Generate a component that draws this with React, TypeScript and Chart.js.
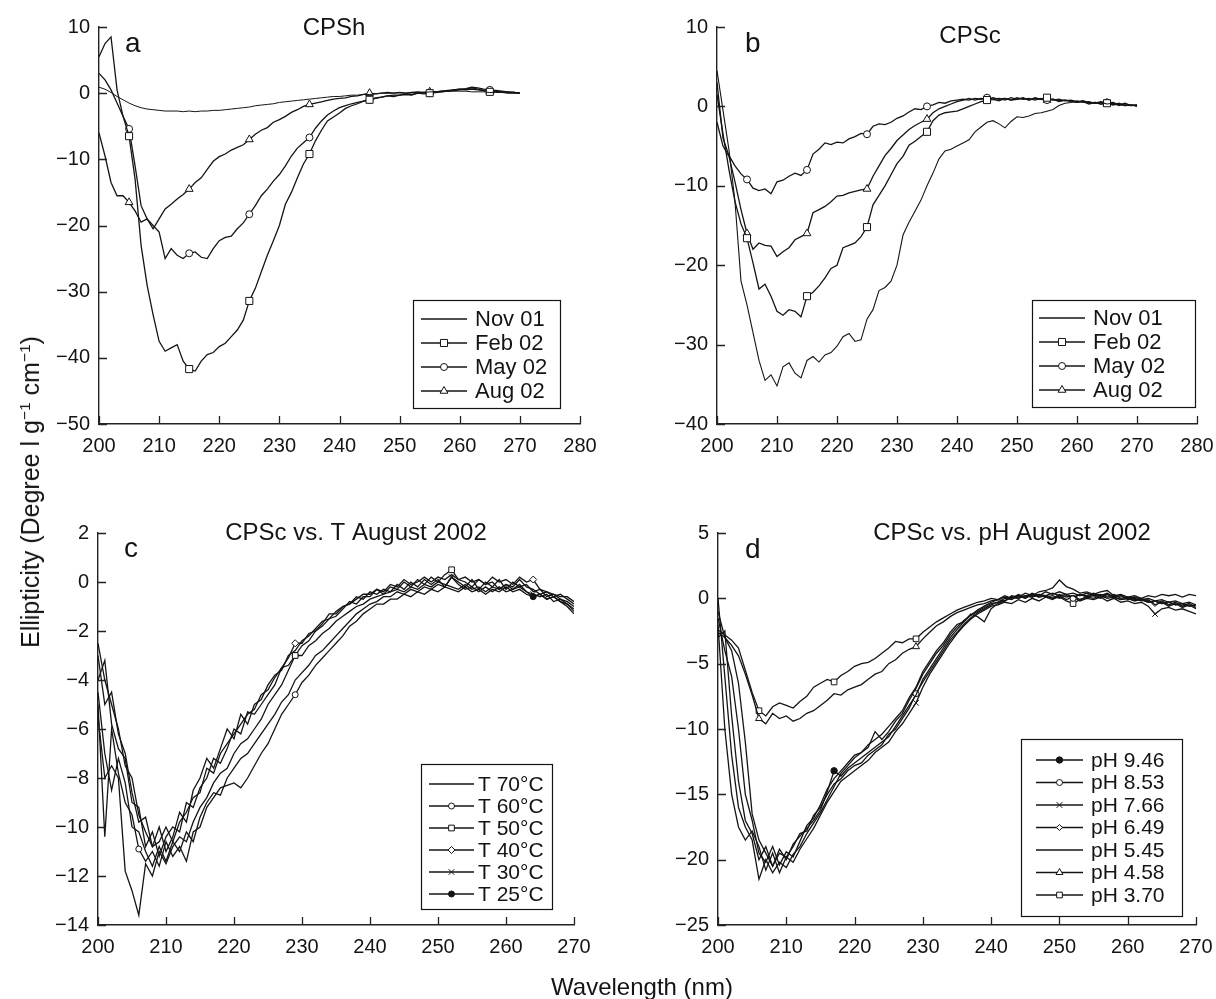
import React, { useEffect, useRef } from 'react';
import { Chart, registerables } from 'chart.js';

Chart.register(...registerables);

// ---------- data ----------
const WAVELENGTHS = [
  200, 201, 202, 203, 204, 205, 206, 207, 208, 209,
  210, 211, 212, 213, 214, 215, 216, 217, 218, 219,
  220, 221, 222, 223, 224, 225, 226, 227, 228, 229,
  230, 231, 232, 233, 234, 235, 236, 237, 238, 239,
  240, 241, 242, 243, 244, 245, 246, 247, 248, 249,
  250, 251, 252, 253, 254, 255, 256, 257, 258, 259,
  260, 261, 262, 263, 264, 265, 266, 267, 268, 269,
  270,
];

// Panel a: CPSh
const A_NOV01 = [
  0.9, 0.6, 0.1, -0.5, -1.0, -1.5, -1.9, -2.2, -2.4, -2.5,
  -2.6, -2.7, -2.7, -2.7, -2.8, -2.7, -2.8, -2.7, -2.7, -2.6,
  -2.6, -2.5, -2.4, -2.3, -2.2, -2.1, -1.9, -1.8, -1.7, -1.6,
  -1.4, -1.3, -1.2, -1.1, -1.0, -0.9, -0.8, -0.7, -0.6, -0.5,
  -0.5, -0.4, -0.3, -0.3, -0.2, -0.2, -0.1, 0.0, 0.0, 0.0,
  0.1, 0.0, 0.1, 0.1, 0.1, 0.2, 0.2, 0.2, 0.3, 0.3,
  0.3, 0.3, 0.2, 0.2, 0.2, 0.1, 0.1, 0.1, 0.0, 0.0,
  0.0,
];
const A_FEB02 = [
  5.5, 7.5, 8.5, 0.5, -3.5, -6.5, -13.0, -23.0, -29.0, -33.5,
  -37.5, -39.0, -38.5, -38.0, -40.5, -41.7, -42.0, -40.5, -39.5, -39.2,
  -38.3, -37.8, -36.8, -35.8, -34.3, -31.4, -29.5, -27.0, -24.5, -22.3,
  -20.0, -16.8, -15.0, -12.8, -10.7, -9.2, -7.2, -5.6, -4.2, -3.6,
  -3.0, -2.3, -1.9, -1.6, -1.2, -1.0, -0.7, -0.6, -0.4, -0.5,
  -0.3, -0.2, -0.3, 0.0, -0.1, 0.0, 0.1, 0.2, 0.3, 0.4,
  0.5, 0.6, 0.8, 0.6, 0.4, 0.2, 0.3, 0.2, 0.1, 0.1,
  0.0,
];
const A_MAY02 = [
  3.0, 2.0, 0.5, -1.5, -3.5, -5.4, -11.0, -17.0, -19.0, -20.0,
  -21.0, -25.0, -23.5, -24.5, -25.0, -24.2, -24.0, -24.8, -25.0, -23.5,
  -22.3, -21.8, -21.6, -20.5, -19.6, -18.3, -17.0, -15.5, -14.5, -13.3,
  -12.3, -11.0, -9.5, -8.3, -7.5, -6.7, -5.3, -4.2, -3.3, -2.7,
  -2.2, -1.9, -1.6, -1.4, -1.2, -1.0, -0.8, -0.6, -0.4, -0.3,
  -0.3, -0.1, -0.2, 0.0, 0.1, 0.0, 0.2, 0.3, 0.3, 0.5,
  0.6, 0.7, 0.9, 0.8, 0.6, 0.5, 0.4, 0.3, 0.2, 0.1,
  0.0,
];
const A_AUG02 = [
  -6.0, -9.5, -13.5, -15.5, -15.5, -16.5, -17.8, -19.5, -19.0, -20.5,
  -19.0, -17.5, -16.8, -16.0, -15.3, -14.5, -13.5, -12.8, -11.5, -10.3,
  -9.6, -9.2, -8.6, -8.2, -7.8, -7.0, -6.2, -5.6, -5.2, -4.4,
  -4.0, -3.5, -2.9, -2.5, -2.0, -1.7, -1.5, -1.3, -1.1, -0.9,
  -0.8, -0.7, -0.5, -0.4, -0.2, 0.0, -0.1, 0.0, 0.1, 0.0,
  0.1, 0.0, 0.1, 0.2, 0.1, 0.2, 0.2, 0.3, 0.4, 0.5,
  0.6, 0.5, 0.6, 0.5, 0.4, 0.3, 0.3, 0.2, 0.1, 0.1,
  0.0,
];

// Panel b: CPSc
const B_NOV01 = [
  4.5, -0.5, -5.5, -12.0, -22.0, -25.0, -28.5, -32.0, -34.5, -33.8,
  -35.2, -32.8, -32.3, -33.6, -34.2, -32.0, -31.5, -32.2, -31.3, -31.0,
  -30.2, -29.0, -28.6, -29.6, -29.4, -26.8, -25.6, -23.2, -22.8, -22.0,
  -20.0, -16.2, -14.6, -13.2, -11.8, -10.0, -8.4, -6.6, -5.6, -5.4,
  -5.0, -4.6, -4.2, -3.2, -2.6, -2.0, -1.8, -2.2, -2.7, -1.9,
  -1.3, -1.4, -1.2, -0.9, -0.8, -0.6, -0.4, 0.1, 0.4, 0.5,
  0.7, 0.5, 0.6, 0.4, 0.5, 0.3, 0.4, 0.1, 0.3, 0.1,
  0.2,
];
const B_FEB02 = [
  1.5, -3.5, -8.0, -12.0, -14.8, -16.6, -19.7, -23.0, -22.4, -23.9,
  -25.8, -26.3, -25.6, -25.8, -26.5, -23.9, -23.4, -22.6, -21.6, -20.4,
  -20.0, -17.8, -17.5, -17.2, -16.4, -15.2, -12.4, -11.2, -10.0, -8.6,
  -7.2, -6.3, -4.9, -4.4, -3.8, -3.2, -1.8, -1.1, -0.8, -0.7,
  -0.6, -0.3, 0.0, 0.3, 0.6, 0.8, 0.9, 0.7, 1.0, 0.8,
  0.9, 1.1, 0.8, 1.0, 0.9, 1.1, 0.8, 0.9, 0.7, 0.8,
  0.6, 0.7, 0.5, 0.4, 0.6, 0.4, 0.5, 0.2, 0.4, 0.1,
  0.2,
];
const B_MAY02 = [
  3.0, -4.0, -6.2, -7.5, -8.5, -9.2, -10.3, -10.6, -10.4, -11.0,
  -9.5, -9.3, -8.8, -8.4, -8.7, -8.0, -6.0, -5.4, -4.6, -4.8,
  -4.5, -4.6, -4.1, -3.8, -3.4, -3.5, -2.5, -2.2, -2.3, -2.0,
  -1.5, -1.2, -0.7, -0.3, -0.4, 0.0, 0.2, 0.5, 0.4, 0.7,
  0.8, 0.9, 0.8, 1.0, 0.9, 1.1, 0.9, 1.0, 0.8, 1.1,
  0.9, 1.0, 0.8, 1.1, 0.9, 0.8, 0.9, 0.6, 0.8, 0.7,
  0.5, 0.7, 0.4, 0.5, 0.3, 0.5, 0.2, 0.4, 0.1, 0.2,
  0.1,
];
const B_AUG02 = [
  -2.0, -5.0, -6.3, -9.5, -13.0, -16.0, -18.0, -17.2, -17.5, -17.6,
  -18.9, -18.3, -17.8, -16.8, -16.4, -16.0, -13.4, -13.0, -12.6, -12.0,
  -11.3, -11.2, -10.9, -10.7, -10.5, -10.4, -8.8, -7.5, -6.2, -5.3,
  -4.3, -3.6, -2.9, -2.4, -2.0, -1.6, -0.8, -0.3, 0.0, 0.3,
  0.6, 0.8, 1.0, 0.8, 1.0, 0.9, 1.1, 0.9, 1.0, 0.8,
  1.1, 0.9, 1.0, 0.8, 1.0, 0.8, 0.9, 0.7, 0.8, 0.6,
  0.5, 0.6, 0.3, 0.5, 0.3, 0.4, 0.2, 0.3, 0.1, 0.2,
  0.0,
];

// Panel c: CPSc vs. temperature
const C_T70 = [
  -2.5, -4.0, -5.0, -6.0, -7.5, -8.0, -9.5, -10.2, -10.8, -10.0,
  -11.0, -10.4, -9.4, -9.8, -8.5, -8.0, -7.2, -7.6, -6.8, -6.0,
  -6.4, -5.4, -5.8, -5.0, -4.8, -4.2, -3.8, -3.6, -3.0, -2.8,
  -2.4, -2.2, -1.9, -1.6, -1.5, -1.2, -1.0, -0.9, -0.6, -0.7,
  -0.4, -0.5, -0.3, -0.4, -0.1, -0.3, 0.0, -0.2, 0.1, -0.1,
  0.1, -0.2, 0.2, 0.0, -0.2, 0.1, -0.3, 0.0, -0.2, 0.1,
  -0.3, 0.0, -0.2, -0.1, -0.4, -0.3, -0.6, -0.5, -0.7, -0.8,
  -1.0,
];
const C_T60 = [
  -5.0, -10.4, -6.0, -7.8, -9.0, -9.5, -10.9, -11.4, -11.0, -11.6,
  -10.6, -11.2, -10.8, -11.4, -10.2, -10.0, -9.2, -8.8, -8.4, -8.3,
  -8.2, -8.4, -8.0, -7.5, -7.0, -6.6, -6.0, -5.4, -5.0, -4.6,
  -4.1, -3.8, -3.4, -3.1, -2.8, -2.5, -2.2, -1.8, -1.6, -1.3,
  -1.1, -0.9, -0.9, -0.7, -0.7, -0.5, -0.6, -0.4, -0.5, -0.3,
  -0.4, -0.2, -0.3, -0.4, -0.2, -0.4, -0.3, -0.5, -0.3, -0.4,
  -0.2, -0.4, -0.3, -0.5, -0.6, -0.5, -0.7, -0.6, -0.8, -0.9,
  -1.2,
];
const C_T50 = [
  -4.0, -3.2, -5.8, -6.8, -7.2, -9.0, -9.2, -10.8, -10.2, -11.2,
  -10.4, -10.0, -10.2, -9.0, -9.2, -8.4, -8.0, -7.2, -7.4, -6.8,
  -6.0, -6.2, -5.3, -5.4, -5.0, -4.6, -4.2, -3.5, -3.4, -3.0,
  -2.6, -2.4, -2.0, -1.8, -1.5, -1.4, -1.1, -0.8, -0.9, -0.6,
  -0.6, -0.3, -0.5, -0.2, -0.3, 0.0, -0.2, 0.1, -0.1, 0.2,
  0.0, 0.3, 0.5, 0.1, 0.0, -0.2, 0.1, -0.1, 0.0, -0.3,
  -0.1, -0.2, 0.1, -0.2, -0.3, -0.5, -0.4, -0.6, -0.5, -0.7,
  -0.9,
];
const C_T40 = [
  -3.0, -5.0, -4.5, -6.2, -7.0, -8.6, -9.8, -9.6, -10.8, -10.6,
  -10.0, -10.6, -9.8, -9.4, -8.8, -8.6, -7.6, -7.8, -7.0, -6.6,
  -6.2, -5.8, -5.4, -5.2, -4.6, -4.4, -3.9, -3.5, -3.1, -2.5,
  -2.5, -2.1, -2.0, -1.7, -1.3, -1.3, -1.0, -0.9, -0.7, -0.5,
  -0.5, -0.3, -0.4, -0.1, -0.2, 0.1, -0.1, 0.0, 0.2, 0.0,
  0.2, 0.1, 0.3, 0.1, 0.2, 0.0, 0.1, -0.1, 0.2, 0.0,
  0.1, -0.1, 0.2, 0.0, 0.1, -0.3, -0.4, -0.5, -0.6, -0.6,
  -0.8,
];
const C_T30 = [
  -4.5, -7.0, -8.5, -7.2, -8.2, -10.0, -10.2, -11.0, -11.6, -10.8,
  -11.4, -10.6, -11.0, -10.2, -10.6, -9.6, -9.0, -8.6, -8.7, -8.0,
  -7.6, -7.2, -7.0, -6.6, -6.2, -5.8, -5.4, -4.9, -4.6, -4.0,
  -3.7, -3.4, -3.0, -2.8, -2.5, -2.2, -1.9, -1.6, -1.3, -1.1,
  -0.9, -0.8, -0.6, -0.6, -0.4, -0.5, -0.3, -0.4, -0.2, -0.3,
  -0.1, -0.2, 0.2, -0.1, -0.3, -0.2, -0.4, -0.2, -0.4, -0.2,
  -0.4, -0.3, -0.1, -0.4, -0.5, -0.6, -0.5, -0.8, -0.7, -0.9,
  -1.1,
];
const C_T25 = [
  -5.5, -8.0, -7.5, -8.0, -11.8, -12.6, -13.6, -11.5, -12.0, -11.0,
  -11.5, -10.8, -10.4, -10.6, -9.8, -9.2, -8.8, -8.2, -7.8, -7.6,
  -7.0, -6.6, -6.4, -6.0, -5.6, -5.0, -4.6, -4.2, -3.6, -3.0,
  -3.0, -2.6, -2.4, -2.1, -1.9, -1.6, -1.4, -1.2, -1.0, -0.9,
  -0.7, -0.6, -0.5, -0.4, -0.3, -0.4, -0.2, -0.3, -0.1, -0.2,
  0.0, -0.1, -0.2, -0.3, -0.1, -0.3, -0.2, -0.4, -0.2, -0.3,
  -0.1, -0.3, -0.2, -0.4, -0.6, -0.5, -0.7, -0.6, -0.8, -1.0,
  -1.3,
];

// Panel d: CPSc vs. pH
const D_PH946 = [
  -1.0, -3.0, -4.0, -6.5, -11.0, -16.5, -18.5, -19.5, -20.5, -19.2,
  -20.0, -18.8, -18.2, -17.6, -17.0, -16.2, -14.8, -13.2, -13.6, -13.0,
  -12.6, -12.2, -11.8, -11.4, -11.0, -10.6, -9.8, -9.0, -8.2, -7.4,
  -6.2, -5.4, -4.6, -3.8, -3.0, -2.4, -1.8, -1.3, -1.0, -0.7,
  -0.4, -0.3, 0.0, -0.1, 0.2, 0.0, 0.3, 0.1, 0.2, 0.0,
  0.3, 0.1, 0.2, -0.1, 0.1, 0.2, 0.0, 0.3, 0.1, -0.1,
  0.0, -0.2, -0.1, -0.3, -0.2, -0.4, -0.3, -0.5, -0.4, -0.6,
  -0.5,
];
const D_PH853 = [
  -3.0, -2.5, -9.0, -14.0, -17.0, -18.0, -20.0, -19.0, -20.5, -19.5,
  -19.8, -19.0, -18.0, -17.8, -16.6, -16.0, -15.0, -14.2, -13.8, -13.2,
  -12.8, -12.6, -12.0, -11.6, -11.2, -10.4, -10.0, -9.2, -8.4, -7.3,
  -6.4, -5.6, -4.8, -4.0, -3.2, -2.6, -2.0, -1.5, -1.1, -0.8,
  -0.5, -0.3, -0.2, 0.1, 0.0, 0.2, 0.1, 0.3, 0.1, 0.2,
  0.0, 0.2, 0.0, 0.3, 0.1, 0.3, 0.2, 0.4, 0.1, 0.2,
  -0.1, 0.0, -0.2, -0.1, -0.5, -0.3, -0.6, -0.4, -0.7, -0.5,
  -0.8,
];
const D_PH766 = [
  -2.0, -10.0, -15.0, -17.5, -18.5, -17.8, -19.0, -20.8, -19.5, -21.0,
  -19.8, -20.2, -19.2, -18.4, -17.6, -16.6, -15.6, -14.8, -14.0, -13.6,
  -13.2, -12.8, -12.4, -11.8, -11.4, -11.0, -10.2, -9.6, -8.8, -8.0,
  -6.8, -5.8, -5.0, -4.2, -3.4, -2.7, -2.1, -1.6, -1.2, -0.9,
  -0.6, -0.5, -0.3, -0.4, -0.1, -0.3, 0.0, -0.2, 0.1, -0.1,
  0.2, -0.1, 0.1, -0.2, 0.0, -0.1, 0.1, -0.2, 0.0, -0.3,
  -0.2, -0.4, -0.3, -0.6, -1.2, -0.8, -0.7, -0.9, -0.8, -1.0,
  -1.2,
];
const D_PH649 = [
  0.0, -6.0, -12.0, -16.0, -17.5, -18.5, -21.5, -20.0, -21.0, -20.2,
  -20.6, -19.6, -19.0, -18.0, -17.2, -16.4, -15.4, -14.4, -13.4, -12.8,
  -12.2, -11.8, -11.4, -10.2, -10.8, -10.2, -9.4, -8.8, -7.8, -6.9,
  -5.8, -5.0, -4.2, -3.6, -2.8, -2.2, -1.7, -1.3, -0.9, -0.6,
  -0.3, -0.1, 0.2, 0.0, 0.3, 0.1, 0.4, 0.2, 0.5, 0.3,
  0.5, 0.3, 0.4, 0.2, 0.4, 0.2, 0.3, 0.1, 0.3, 0.0,
  0.1, -0.1, 0.0, -0.2, -0.4, -0.2, -0.5, -0.3, -0.6, -0.4,
  -0.7,
];
const D_PH545 = [
  -1.5, -4.0, -6.0, -10.0, -15.0, -17.0, -19.5, -20.2, -19.0, -20.4,
  -19.4, -19.8, -18.6, -17.4, -16.8, -15.8, -14.6, -13.8, -13.2, -12.6,
  -12.0, -11.8, -11.2, -10.8, -10.4, -9.8, -9.2, -8.6, -7.6, -6.8,
  -5.6, -4.8, -4.0, -3.4, -2.6, -2.0, -1.8, -1.2, -1.4, -1.8,
  -0.8, -0.4, -0.2, 0.2, 0.1, 0.4, 0.2, 0.5, 0.6, 0.8,
  1.4, 0.9, 0.7, 0.4, 0.5, 0.3, 0.5, 0.6, 0.2, 0.3,
  0.1, 0.2, 0.0, 0.2, 0.1, 0.3, 0.2, 0.3, 0.1, 0.3,
  0.2,
];
const D_PH458 = [
  -2.6, -3.0, -3.6, -4.4, -5.8, -7.4, -9.2, -9.6, -8.8, -9.2,
  -9.0, -9.4, -9.2, -8.8, -8.6, -8.2, -7.8, -7.3, -7.4, -7.0,
  -6.8, -6.6, -6.2, -5.8, -5.6, -5.0, -4.7, -4.2, -3.9, -3.7,
  -3.1, -2.6, -2.1, -1.8, -1.4, -1.1, -0.9, -0.7, -0.5, -0.4,
  -0.2, -0.1, -0.2, 0.1, 0.0, 0.2, 0.1, 0.3, 0.2, 0.4,
  0.2, 0.3, 0.1, 0.3, 0.2, 0.4, 0.2, 0.3, 0.1, 0.2,
  0.0, 0.1, -0.1, 0.0, -0.2, -0.1, -0.3, -0.2, -0.4, -0.3,
  -0.5,
];
const D_PH370 = [
  -2.4, -2.8, -3.2, -3.8, -5.5, -7.2, -8.6, -9.0, -8.3, -8.0,
  -8.2, -8.4, -7.9, -7.5, -6.8, -6.5, -6.2, -6.4, -5.9, -5.6,
  -5.2, -5.0, -4.9, -4.6, -4.2, -3.8, -3.3, -3.4, -3.1, -3.1,
  -2.6, -2.2, -1.8, -1.5, -1.2, -0.9, -0.7, -0.5, -0.3, -0.2,
  0.0, -0.1, 0.1, 0.0, 0.2, 0.0, 0.3, 0.1, 0.2, 0.0,
  0.1, -0.2, -0.4, -0.1, 0.1, 0.0, 0.2, 0.0, 0.1, -0.1,
  0.0, -0.2, -0.1, -0.3, -0.2, -0.4, -0.3, -0.5, -0.4, -0.6,
  -0.5,
];

// tick ranges
const AB_X_TICKS = { min: 200, max: 280, step: 10 };
const CD_X_TICKS = { min: 200, max: 270, step: 10 };
const A_Y_TICKS = { min: -50, max: 10, step: 10 };
const B_Y_TICKS = { min: -40, max: 10, step: 10 };
const C_Y_TICKS = { min: -14, max: 2, step: 2 };
const D_Y_TICKS = { min: -25, max: 5, step: 5 };

const MONTH_LABELS = ['Nov 01', 'Feb 02', 'May 02', 'Aug 02'];
const TEMP_LABELS = ['T 70°C', 'T 60°C', 'T 50°C', 'T 40°C', 'T 30°C', 'T 25°C'];
const PH_LABELS = ['pH 9.46', 'pH 8.53', 'pH 7.66', 'pH 6.49', 'pH 5.45', 'pH 4.58', 'pH 3.70'];
const AB_MARKS = [205, 215, 225, 235, 245, 255, 265];

// ---------- styling ----------
const FONT = '"Liberation Sans", Arial, Helvetica, sans-serif';
const INK = '#141414';
const AXIS = '#222222';

type Series = {
  label: string;
  values: number[];
  style?: string;
  r?: number;
  filled?: boolean;
  marks?: number[];
  width?: number;
};

type PanelCfg = {
  canvas: { x: number; y: number; w: number; h: number };
  area: { l: number; r: number; t: number; b: number };
  xr: { min: number; max: number; step: number };
  yr: { min: number; max: number; step: number };
  series: Series[];
  title: string; titleX: number; titleY: number;
  letter: string; letterX: number; letterY: number;
  legend: { x: number; y: number; w: number; h: number; row0: number; rowH: number; l0: number; l1: number; tx: number; font: number };
};

const PANELS: PanelCfg[] = [
  {
    canvas: { x: 0, y: 0, w: 608, h: 470 },
    area: { l: 99, r: 580, t: 27, b: 424 },
    xr: AB_X_TICKS, yr: A_Y_TICKS,
    series: [
      { label: MONTH_LABELS[0], values: A_NOV01, width: 1 },
      { label: MONTH_LABELS[1], values: A_FEB02, style: 'rect', r: 5, marks: AB_MARKS },
      { label: MONTH_LABELS[2], values: A_MAY02, style: 'circle', r: 3.5, marks: AB_MARKS },
      { label: MONTH_LABELS[3], values: A_AUG02, style: 'triangle', r: 4.5, marks: AB_MARKS },
    ],
    title: 'CPSh', titleX: 334, titleY: 35,
    letter: 'a', letterX: 125, letterY: 52,
    legend: { x: 413, y: 300, w: 147, h: 108, row0: 319, rowH: 24, l0: 421, l1: 467, tx: 475, font: 22 },
  },
  {
    canvas: { x: 608, y: 0, w: 608, h: 470 },
    area: { l: 717, r: 1197, t: 27, b: 424 },
    xr: AB_X_TICKS, yr: B_Y_TICKS,
    series: [
      { label: MONTH_LABELS[0], values: B_NOV01, width: 1.1 },
      { label: MONTH_LABELS[1], values: B_FEB02, style: 'rect', r: 5, marks: AB_MARKS },
      { label: MONTH_LABELS[2], values: B_MAY02, style: 'circle', r: 3.5, marks: AB_MARKS },
      { label: MONTH_LABELS[3], values: B_AUG02, style: 'triangle', r: 4.5, marks: AB_MARKS },
    ],
    title: 'CPSc', titleX: 970, titleY: 43,
    letter: 'b', letterX: 745, letterY: 52,
    legend: { x: 1032, y: 300, w: 163, h: 107, row0: 318, rowH: 24, l0: 1039, l1: 1085, tx: 1093, font: 22 },
  },
  {
    canvas: { x: 0, y: 470, w: 608, h: 529 },
    area: { l: 98, r: 574, t: 533, b: 925 },
    xr: CD_X_TICKS, yr: C_Y_TICKS,
    series: [
      { label: TEMP_LABELS[0], values: C_T70 },
      { label: TEMP_LABELS[1], values: C_T60, style: 'circle', r: 3, marks: [206, 229] },
      { label: TEMP_LABELS[2], values: C_T50, style: 'rect', r: 4, marks: [229, 252] },
      { label: TEMP_LABELS[3], values: C_T40, style: 'rectRot', r: 3.5, marks: [229, 264] },
      { label: TEMP_LABELS[4], values: C_T30, style: 'crossRot', r: 4, marks: [252, 264] },
      { label: TEMP_LABELS[5], values: C_T25, style: 'circle', r: 3, filled: true, marks: [229, 264] },
    ],
    title: 'CPSc vs. T August 2002', titleX: 356, titleY: 540,
    letter: 'c', letterX: 124, letterY: 557,
    legend: { x: 421, y: 764, w: 131, h: 145, row0: 784, rowH: 22, l0: 429, l1: 474, tx: 478, font: 21 },
  },
  {
    canvas: { x: 608, y: 470, w: 608, h: 529 },
    area: { l: 718, r: 1196, t: 533, b: 925 },
    xr: CD_X_TICKS, yr: D_Y_TICKS,
    series: [
      { label: PH_LABELS[0], values: D_PH946, style: 'circle', r: 3.2, filled: true, marks: [217] },
      { label: PH_LABELS[1], values: D_PH853, style: 'circle', r: 3, marks: [229, 252] },
      { label: PH_LABELS[2], values: D_PH766, style: 'crossRot', r: 4, marks: [229, 264] },
      { label: PH_LABELS[3], values: D_PH649, style: 'rectRot', r: 3, marks: [264] },
      { label: PH_LABELS[4], values: D_PH545 },
      { label: PH_LABELS[5], values: D_PH458, style: 'triangle', r: 4, marks: [206, 229] },
      { label: PH_LABELS[6], values: D_PH370, style: 'rect', r: 4, marks: [206, 217, 229, 252] },
    ],
    title: 'CPSc vs. pH August 2002', titleX: 1012, titleY: 540,
    letter: 'd', letterX: 745, letterY: 558,
    legend: { x: 1021, y: 739, w: 161, h: 177, row0: 760, rowH: 22.5, l0: 1036, l1: 1083, tx: 1091, font: 21 },
  },
];

// ---------- drawing helpers ----------
function drawMarker(ctx: CanvasRenderingContext2D, style: string, x: number, y: number, r: number, filled: boolean) {
  ctx.save();
  ctx.lineWidth = 1;
  ctx.strokeStyle = INK;
  ctx.fillStyle = filled ? INK : '#ffffff';
  ctx.beginPath();
  if (style === 'circle') {
    ctx.arc(x, y, r, 0, Math.PI * 2);
  } else if (style === 'rect') {
    const s = r * Math.SQRT1_2;
    ctx.rect(x - s, y - s, 2 * s, 2 * s);
  } else if (style === 'triangle') {
    ctx.moveTo(x, y - r);
    ctx.lineTo(x + r * 0.866, y + r / 2);
    ctx.lineTo(x - r * 0.866, y + r / 2);
    ctx.closePath();
  } else if (style === 'rectRot') {
    ctx.moveTo(x - r, y);
    ctx.lineTo(x, y - r);
    ctx.lineTo(x + r, y);
    ctx.lineTo(x, y + r);
    ctx.closePath();
  } else if (style === 'crossRot') {
    const s = r * Math.SQRT1_2;
    ctx.moveTo(x - s, y - s); ctx.lineTo(x + s, y + s);
    ctx.moveTo(x + s, y - s); ctx.lineTo(x - s, y + s);
    ctx.stroke();
    ctx.restore();
    return;
  }
  ctx.fill();
  ctx.stroke();
  ctx.restore();
}

const decoPlugin = {
  id: 'deco',
  afterDraw(chart: any, _args: any, o: any) {
    const ctx: CanvasRenderingContext2D = chart.ctx;
    const xs = chart.scales.x;
    const ys = chart.scales.y;
    const { left, bottom } = chart.chartArea;
    ctx.save();
    // inward tick marks
    ctx.strokeStyle = AXIS;
    ctx.lineWidth = 1.3;
    ctx.beginPath();
    for (const t of xs.ticks) {
      const p = Math.round(xs.getPixelForValue(t.value)) + 0.5;
      ctx.moveTo(p, bottom);
      ctx.lineTo(p, bottom - 8);
    }
    for (const t of ys.ticks) {
      const p = Math.round(ys.getPixelForValue(t.value)) + 0.5;
      ctx.moveTo(left, p);
      ctx.lineTo(left + 8, p);
    }
    ctx.stroke();

    // title + panel letter
    ctx.fillStyle = INK;
    ctx.textBaseline = 'alphabetic';
    ctx.textAlign = 'center';
    ctx.font = `24px ${FONT}`;
    ctx.fillText(o.title, o.titleX, o.titleY);
    ctx.textAlign = 'left';
    ctx.font = `28px ${FONT}`;
    ctx.fillText(o.letter, o.letterX, o.letterY);

    // legend
    const L = o.legend;
    ctx.fillStyle = '#ffffff';
    ctx.fillRect(L.x, L.y, L.w, L.h);
    ctx.strokeStyle = INK;
    ctx.lineWidth = 1.2;
    ctx.strokeRect(L.x + 0.5, L.y + 0.5, L.w, L.h);
    o.items.forEach((it: any, i: number) => {
      const y = L.row0 + i * L.rowH;
      ctx.strokeStyle = INK;
      ctx.lineWidth = 1.3;
      ctx.beginPath();
      ctx.moveTo(L.l0, y);
      ctx.lineTo(L.l1, y);
      ctx.stroke();
      if (it.style) drawMarker(ctx, it.style, (L.l0 + L.l1) / 2, y, it.r, !!it.filled);
      ctx.fillStyle = INK;
      ctx.font = `${L.font}px ${FONT}`;
      ctx.textAlign = 'left';
      ctx.textBaseline = 'middle';
      ctx.fillText(chart.data.datasets[i].label, L.tx, y + 1);
    });
    ctx.restore();
  },
};

const fmtTick = (v: any) => {
  const n = Number(v);
  return n < 0 ? '\u2212' + Math.abs(n) : String(n);
};

function buildConfig(p: PanelCfg): any {
  const ox = p.canvas.x;
  const oy = p.canvas.y;
  const YW = 60;
  const XH = 40;
  const shift = (L: PanelCfg['legend']) => ({
    ...L, x: L.x - ox, y: L.y - oy, row0: L.row0 - oy, l0: L.l0 - ox, l1: L.l1 - ox, tx: L.tx - ox,
  });
  const datasets = p.series.map((s) => ({
    label: s.label,
    data: WAVELENGTHS.map((w, i) => ({ x: w, y: s.values[i] })),
    borderColor: INK,
    borderWidth: s.width ?? 1.3,
    pointStyle: s.style || 'circle',
    pointRadius: (c: any) => (s.style && s.marks && s.marks.includes(WAVELENGTHS[c.dataIndex]) ? s.r : 0),
    pointHoverRadius: 0,
    pointBackgroundColor: s.filled ? INK : '#ffffff',
    pointBorderColor: INK,
    pointBorderWidth: 1,
    fill: false,
    tension: 0,
  }));
  const tickFont = { family: FONT, size: 20 };
  return {
    type: 'line',
    data: { datasets },
    plugins: [decoPlugin],
    options: {
      animation: false,
      responsive: false,
      maintainAspectRatio: false,
      devicePixelRatio: 1,
      events: [],
      layout: {
        padding: {
          left: p.area.l - ox - YW,
          right: ox + p.canvas.w - p.area.r,
          top: p.area.t - oy,
          bottom: oy + p.canvas.h - p.area.b - XH,
        },
      },
      plugins: {
        legend: { display: false },
        tooltip: { enabled: false },
        title: { display: false },
        deco: {
          title: p.title, titleX: p.titleX - ox, titleY: p.titleY - oy,
          letter: p.letter, letterX: p.letterX - ox, letterY: p.letterY - oy,
          legend: shift(p.legend),
          items: p.series.map((s) => ({ style: s.style || '', r: s.r || 0, filled: !!s.filled })),
        },
      },
      scales: {
        x: {
          type: 'linear',
          min: p.xr.min,
          max: p.xr.max,
          ticks: { stepSize: p.xr.step, font: tickFont, color: INK, padding: 10, maxRotation: 0, autoSkip: false, callback: fmtTick },
          grid: { display: false, drawTicks: false },
          border: { display: true, color: AXIS, width: 1.4 },
          afterFit: (sc: any) => { sc.height = XH; sc.paddingLeft = 0; sc.paddingRight = 0; },
        },
        y: {
          type: 'linear',
          min: p.yr.min,
          max: p.yr.max,
          ticks: { stepSize: p.yr.step, font: tickFont, color: INK, padding: 9, autoSkip: false, callback: fmtTick },
          grid: { display: false, drawTicks: false },
          border: { display: true, color: AXIS, width: 1.4 },
          afterFit: (sc: any) => { sc.width = YW; sc.paddingTop = 0; sc.paddingBottom = 0; },
        },
      },
    },
  };
}

function Panel({ p }: { p: PanelCfg }) {
  const ref = useRef<HTMLCanvasElement>(null);
  useEffect(() => {
    if (!ref.current) return;
    const chart = new Chart(ref.current, buildConfig(p));
    return () => chart.destroy();
  }, [p]);
  return (
    <canvas
      ref={ref}
      width={p.canvas.w}
      height={p.canvas.h}
      style={{ position: 'absolute', left: p.canvas.x, top: p.canvas.y, width: p.canvas.w, height: p.canvas.h }}
    />
  );
}

export default function App() {
  return (
    <div style={{ position: 'absolute', left: 0, top: 0, width: 1216, height: 999, background: '#ffffff', overflow: 'hidden', fontFamily: FONT, color: INK }}>
      {PANELS.map((p, i) => (
        <Panel key={i} p={p} />
      ))}
      <div
        style={{
          position: 'absolute', left: 30, top: 492, fontSize: 25, lineHeight: '28px', whiteSpace: 'nowrap',
          transform: 'translate(-50%, -50%) rotate(-90deg)',
        }}
      >
        Ellipticity (Degree l g<sup style={{ fontSize: '0.62em', lineHeight: 0 }}>−1</sup> cm<sup style={{ fontSize: '0.62em', lineHeight: 0 }}>−1</sup>)
      </div>
      <div
        style={{
          position: 'absolute', left: 642, top: 987, fontSize: 24, lineHeight: '26px', whiteSpace: 'nowrap',
          transform: 'translate(-50%, -50%)',
        }}
      >
        Wavelength (nm)
      </div>
    </div>
  );
}
